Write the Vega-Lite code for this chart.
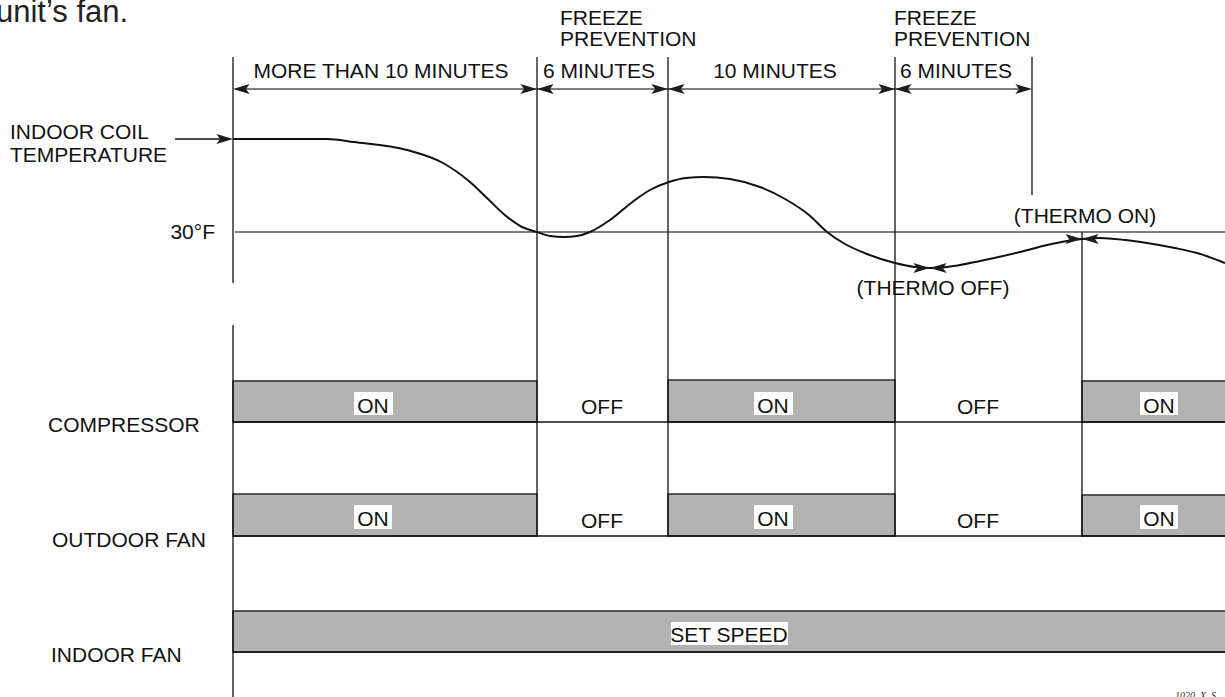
{
  "$schema": "https://vega.github.io/schema/vega-lite/v6.json",
  "width": 1225,
  "height": 697,
  "autosize": {"type": "fit", "contains": "padding"},
  "padding": 0,
  "background": "white",
  "config": {"view": {"stroke": null}},
  "datasets": {
    "boxes": [
      {"row": "COMPRESSOR", "x": 233, "x2": 537, "y": 381, "y2": 422},
      {"row": "COMPRESSOR", "x": 668, "x2": 895, "y": 380, "y2": 422},
      {"row": "COMPRESSOR", "x": 1082, "x2": 1232, "y": 381, "y2": 422},
      {"row": "OUTDOOR FAN", "x": 233, "x2": 537, "y": 494, "y2": 536},
      {"row": "OUTDOOR FAN", "x": 668, "x2": 895, "y": 494, "y2": 536},
      {"row": "OUTDOOR FAN", "x": 1082, "x2": 1232, "y": 495, "y2": 536},
      {"row": "INDOOR FAN", "x": 233, "x2": 1232, "y": 611, "y2": 652}
    ],
    "bgs": [
      {"x": 354, "x2": 393, "y": 392, "y2": 415},
      {"x": 754, "x2": 793, "y": 392, "y2": 415},
      {"x": 1140, "x2": 1178, "y": 392, "y2": 415},
      {"x": 354, "x2": 392, "y": 505, "y2": 529},
      {"x": 754, "x2": 793, "y": 505, "y2": 529},
      {"x": 1140, "x2": 1178, "y": 505, "y2": 529},
      {"x": 671, "x2": 788, "y": 622, "y2": 645}
    ],
    "vlines": [
      {"x": 233, "x2": 233, "y": 57, "y2": 283},
      {"x": 233, "x2": 233, "y": 325, "y2": 697},
      {"x": 537, "x2": 537, "y": 57, "y2": 537},
      {"x": 668, "x2": 668, "y": 57, "y2": 537},
      {"x": 895, "x2": 895, "y": 57, "y2": 537},
      {"x": 1032, "x2": 1032, "y": 57, "y2": 195},
      {"x": 1082, "x2": 1082, "y": 232, "y2": 537},
      {"x": 233, "x2": 1225, "y": 422, "y2": 422},
      {"x": 233, "x2": 1225, "y": 536, "y2": 536},
      {"x": 233, "x2": 1225, "y": 652, "y2": 652},
      {"x": 175, "x2": 225, "y": 139, "y2": 139}
    ],
    "glines": [
      {"x": 235, "x2": 1225, "y": 232, "y2": 232},
      {"x": 240, "x2": 1025, "y": 89, "y2": 89}
    ],
    "curve": [
      {"x": 233, "y": 139}, {"x": 300, "y": 139}, {"x": 327, "y": 139},
      {"x": 354, "y": 142}, {"x": 407, "y": 150}, {"x": 443, "y": 163},
      {"x": 470, "y": 182}, {"x": 488, "y": 199}, {"x": 506, "y": 216},
      {"x": 522, "y": 227}, {"x": 537, "y": 232}, {"x": 550, "y": 236},
      {"x": 564, "y": 237}, {"x": 577, "y": 236}, {"x": 590, "y": 232},
      {"x": 610, "y": 220}, {"x": 635, "y": 200}, {"x": 650, "y": 190},
      {"x": 669, "y": 182}, {"x": 686, "y": 178}, {"x": 704, "y": 177},
      {"x": 730, "y": 179}, {"x": 760, "y": 187}, {"x": 785, "y": 199},
      {"x": 809, "y": 215}, {"x": 827, "y": 232}, {"x": 845, "y": 244},
      {"x": 867, "y": 254}, {"x": 895, "y": 263}, {"x": 915, "y": 267},
      {"x": 930, "y": 268}, {"x": 947, "y": 267}, {"x": 980, "y": 261},
      {"x": 1020, "y": 252}, {"x": 1047, "y": 245}, {"x": 1067, "y": 241},
      {"x": 1082, "y": 239}, {"x": 1100, "y": 238}, {"x": 1125, "y": 240},
      {"x": 1147, "y": 243}, {"x": 1175, "y": 248}, {"x": 1197, "y": 253},
      {"x": 1225, "y": 263}
    ],
    "arrows": [
      {"x": 233, "y": 139, "dir": "R"},
      {"x": 233, "y": 89, "dir": "L"},
      {"x": 537, "y": 89, "dir": "R"},
      {"x": 537, "y": 89, "dir": "L"},
      {"x": 668, "y": 89, "dir": "R"},
      {"x": 668, "y": 89, "dir": "L"},
      {"x": 895, "y": 89, "dir": "R"},
      {"x": 895, "y": 89, "dir": "L"},
      {"x": 1032, "y": 89, "dir": "R"},
      {"x": 930, "y": 268, "dir": "R"},
      {"x": 930, "y": 268, "dir": "L"},
      {"x": 1082, "y": 239, "dir": "R"},
      {"x": 1082, "y": 239, "dir": "L"}
    ],
    "ctext": [
      {"x": 381, "y": 78, "t": "MORE THAN 10 MINUTES"},
      {"x": 599, "y": 78, "t": "6 MINUTES"},
      {"x": 775, "y": 78, "t": "10 MINUTES"},
      {"x": 956, "y": 78, "t": "6 MINUTES"},
      {"x": 933, "y": 295, "t": "(THERMO OFF)"},
      {"x": 1085, "y": 223, "t": "(THERMO ON)"},
      {"x": 373, "y": 413, "t": "ON"},
      {"x": 773, "y": 413, "t": "ON"},
      {"x": 1159, "y": 413, "t": "ON"},
      {"x": 602, "y": 414, "t": "OFF"},
      {"x": 978, "y": 414, "t": "OFF"},
      {"x": 373, "y": 526, "t": "ON"},
      {"x": 773, "y": 526, "t": "ON"},
      {"x": 1159, "y": 526, "t": "ON"},
      {"x": 602, "y": 528, "t": "OFF"},
      {"x": 978, "y": 528, "t": "OFF"},
      {"x": 729, "y": 642, "t": "SET  SPEED"}
    ],
    "ltext": [
      {"x": 560, "y": 25, "t": "FREEZE"},
      {"x": 560, "y": 46, "t": "PREVENTION"},
      {"x": 894, "y": 25, "t": "FREEZE"},
      {"x": 894, "y": 46, "t": "PREVENTION"},
      {"x": 10, "y": 139, "t": "INDOOR  COIL"},
      {"x": 10, "y": 162, "t": "TEMPERATURE"},
      {"x": 48, "y": 432, "t": "COMPRESSOR"},
      {"x": 52, "y": 547, "t": "OUTDOOR FAN"},
      {"x": 51, "y": 662, "t": "INDOOR FAN"}
    ],
    "rtext": [
      {"x": 215, "y": 239, "t": "30°F"}
    ],
    "ttext": [
      {"x": -4, "y": 22, "t": "unit’s fan."}
    ],
    "ntext": [
      {"x": 1175, "y": 699, "t": "1020_X_S"}
    ]
  },
  "layer": [
    {
      "data": {"name": "boxes"},
      "mark": {"type": "rect", "fill": "#b3b3b3", "stroke": "#2a2a2a", "strokeWidth": 1.4, "clip": true},
      "encoding": {
        "x": {"field": "x", "type": "quantitative", "scale": {"domain": [0, 1225], "nice": false, "zero": false}, "axis": null},
        "x2": {"field": "x2"},
        "y": {"field": "y", "type": "quantitative", "scale": {"domain": [0, 697], "nice": false, "zero": false, "reverse": true}, "axis": null},
        "y2": {"field": "y2"}
      }
    },
    {
      "data": {"name": "bgs"},
      "mark": {"type": "rect", "fill": "white", "stroke": null, "clip": true},
      "encoding": {
        "x": {"field": "x", "type": "quantitative", "scale": {"domain": [0, 1225], "nice": false, "zero": false}, "axis": null},
        "x2": {"field": "x2"},
        "y": {"field": "y", "type": "quantitative", "scale": {"domain": [0, 697], "nice": false, "zero": false, "reverse": true}, "axis": null},
        "y2": {"field": "y2"}
      }
    },
    {
      "data": {"name": "glines"},
      "mark": {"type": "rule", "color": "#555555", "strokeWidth": 1.6, "clip": true},
      "encoding": {
        "x": {"field": "x", "type": "quantitative", "scale": {"domain": [0, 1225], "nice": false, "zero": false}, "axis": null},
        "x2": {"field": "x2"},
        "y": {"field": "y", "type": "quantitative", "scale": {"domain": [0, 697], "nice": false, "zero": false, "reverse": true}, "axis": null},
        "y2": {"field": "y2"}
      }
    },
    {
      "data": {"name": "vlines"},
      "mark": {"type": "rule", "color": "#111111", "strokeWidth": 1.3, "clip": true},
      "encoding": {
        "x": {"field": "x", "type": "quantitative", "scale": {"domain": [0, 1225], "nice": false, "zero": false}, "axis": null},
        "x2": {"field": "x2"},
        "y": {"field": "y", "type": "quantitative", "scale": {"domain": [0, 697], "nice": false, "zero": false, "reverse": true}, "axis": null},
        "y2": {"field": "y2"}
      }
    },
    {
      "data": {"name": "curve"},
      "mark": {"type": "line", "color": "#111111", "strokeWidth": 2, "interpolate": "monotone", "clip": true},
      "encoding": {
        "x": {"field": "x", "type": "quantitative", "scale": {"domain": [0, 1225], "nice": false, "zero": false}, "axis": null},
        "y": {"field": "y", "type": "quantitative", "scale": {"domain": [0, 697], "nice": false, "zero": false, "reverse": true}, "axis": null}
      }
    },
    {
      "data": {"name": "arrows"},
      "mark": {"type": "point", "filled": true, "fill": "#1c1c1c", "strokeWidth": 0, "opacity": 1, "size": 1100, "clip": true},
      "encoding": {
        "x": {"field": "x", "type": "quantitative", "scale": {"domain": [0, 1225], "nice": false, "zero": false}, "axis": null},
        "y": {"field": "y", "type": "quantitative", "scale": {"domain": [0, 697], "nice": false, "zero": false, "reverse": true}, "axis": null},
        "shape": {"field": "dir", "type": "nominal", "scale": {"domain": ["R", "L"], "range": ["M0,0L-1,-0.3L-0.78,0L-1,0.3Z", "M0,0L1,-0.3L0.78,0L1,0.3Z"]}, "legend": null}
      }
    },
    {
      "data": {"name": "ctext"},
      "mark": {"type": "text", "align": "center", "baseline": "alphabetic", "font": "Liberation Sans", "fontSize": 21, "color": "#111111", "clip": true},
      "encoding": {
        "x": {"field": "x", "type": "quantitative", "scale": {"domain": [0, 1225], "nice": false, "zero": false}, "axis": null},
        "y": {"field": "y", "type": "quantitative", "scale": {"domain": [0, 697], "nice": false, "zero": false, "reverse": true}, "axis": null},
        "text": {"field": "t", "type": "nominal"}
      }
    },
    {
      "data": {"name": "ltext"},
      "mark": {"type": "text", "align": "left", "baseline": "alphabetic", "font": "Liberation Sans", "fontSize": 21, "color": "#111111", "clip": true},
      "encoding": {
        "x": {"field": "x", "type": "quantitative", "scale": {"domain": [0, 1225], "nice": false, "zero": false}, "axis": null},
        "y": {"field": "y", "type": "quantitative", "scale": {"domain": [0, 697], "nice": false, "zero": false, "reverse": true}, "axis": null},
        "text": {"field": "t", "type": "nominal"}
      }
    },
    {
      "data": {"name": "rtext"},
      "mark": {"type": "text", "align": "right", "baseline": "alphabetic", "font": "Liberation Sans", "fontSize": 21, "color": "#111111", "clip": true},
      "encoding": {
        "x": {"field": "x", "type": "quantitative", "scale": {"domain": [0, 1225], "nice": false, "zero": false}, "axis": null},
        "y": {"field": "y", "type": "quantitative", "scale": {"domain": [0, 697], "nice": false, "zero": false, "reverse": true}, "axis": null},
        "text": {"field": "t", "type": "nominal"}
      }
    },
    {
      "data": {"name": "ttext"},
      "mark": {"type": "text", "align": "left", "baseline": "alphabetic", "font": "Liberation Sans", "fontSize": 31, "color": "#222222", "clip": true},
      "encoding": {
        "x": {"field": "x", "type": "quantitative", "scale": {"domain": [0, 1225], "nice": false, "zero": false}, "axis": null},
        "y": {"field": "y", "type": "quantitative", "scale": {"domain": [0, 697], "nice": false, "zero": false, "reverse": true}, "axis": null},
        "text": {"field": "t", "type": "nominal"}
      }
    },
    {
      "data": {"name": "ntext"},
      "mark": {"type": "text", "align": "left", "baseline": "alphabetic", "font": "Liberation Serif", "fontStyle": "italic", "fontSize": 10, "color": "#333333", "clip": true},
      "encoding": {
        "x": {"field": "x", "type": "quantitative", "scale": {"domain": [0, 1225], "nice": false, "zero": false}, "axis": null},
        "y": {"field": "y", "type": "quantitative", "scale": {"domain": [0, 697], "nice": false, "zero": false, "reverse": true}, "axis": null},
        "text": {"field": "t", "type": "nominal"}
      }
    }
  ]
}
